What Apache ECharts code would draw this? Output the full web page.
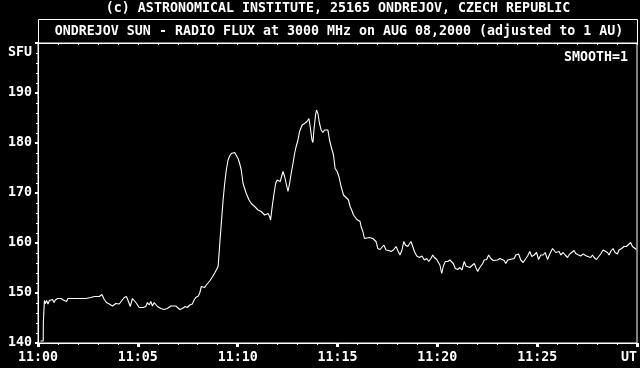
<!DOCTYPE html>
<html>
<head>
<meta charset="utf-8">
<script src="https://cdn.jsdelivr.net/npm/echarts@6/dist/echarts.min.js"></script>
<style>
html,body{margin:0;padding:0;background:#000;}
#chart{width:640px;height:368px;}
</style>
</head>
<body>
<div id="chart"></div>
<script>
// minutes after 11:00 UT
const minutes = [
0.12,0.26,0.27,0.31,0.32,0.37,0.43,0.50,0.57,0.65,0.73,0.80,0.87,0.98,1.07,1.15,1.27,1.37,1.43,1.50,
1.65,1.90,1.98,2.07,2.40,2.48,2.65,2.82,2.90,3.07,3.20,3.32,3.43,3.57,3.73,3.90,3.98,4.07,4.20,4.32,
4.43,4.53,4.62,4.73,4.82,4.90,4.98,5.07,5.27,5.40,5.48,5.57,5.65,5.73,5.82,5.90,5.98,6.15,6.32,6.48,
6.65,6.73,6.90,6.98,7.10,7.23,7.37,7.48,7.60,7.73,7.82,7.90,8.03,8.10,8.18,8.27,8.35,8.43,8.52,8.60,
8.73,8.85,8.93,9.02,9.07,9.13,9.18,9.27,9.35,9.43,9.52,9.60,9.68,9.77,9.85,9.93,10.02,10.10,10.18,10.27,
10.35,10.43,10.57,10.68,10.77,10.85,10.93,11.02,11.18,11.27,11.35,11.43,11.52,11.60,11.65,11.73,11.80,11.90,11.98,12.07,
12.13,12.20,12.27,12.35,12.43,12.52,12.60,12.68,12.77,12.85,12.93,13.02,13.10,13.23,13.35,13.47,13.57,13.63,13.72,13.77,
13.82,13.90,13.95,14.02,14.10,14.18,14.27,14.35,14.43,14.52,14.60,14.68,14.80,14.88,14.98,15.07,15.18,15.30,15.43,15.55,
15.63,15.72,15.80,15.88,15.97,16.05,16.13,16.18,16.27,16.35,16.43,16.60,16.77,16.85,16.93,17.02,17.13,17.23,17.32,17.43,
17.57,17.68,17.80,17.93,18.02,18.13,18.23,18.32,18.40,18.52,18.60,18.68,18.77,18.85,18.97,19.10,19.23,19.35,19.47,19.57,
19.68,19.77,19.85,19.97,20.07,20.13,20.22,20.30,20.40,20.52,20.63,20.73,20.80,20.90,21.02,21.13,21.23,21.35,21.43,21.52,
21.63,21.73,21.85,21.93,22.02,22.10,22.18,22.27,22.35,22.47,22.57,22.68,22.80,22.90,23.02,23.13,23.23,23.35,23.43,23.52,
23.63,23.73,23.85,23.93,24.07,24.18,24.30,24.40,24.52,24.63,24.73,24.85,24.97,25.07,25.18,25.30,25.40,25.52,25.63,25.77,
25.85,25.93,26.02,26.10,26.18,26.30,26.40,26.52,26.63,26.73,26.85,26.93,27.07,27.18,27.30,27.40,27.47,27.57,27.68,27.77,
27.85,27.97,28.07,28.18,28.30,28.40,28.52,28.60,28.68,28.80,28.90,29.02,29.10,29.23,29.35,29.47,29.57,29.68,29.77,29.85,
29.97
];
// radio flux, SFU
const flux = [
140.4,140.4,144.4,144.6,148.5,147.9,148.5,147.8,148.5,148.3,148.7,148.1,148.6,148.9,148.6,148.9,148.6,148.9,148.3,148.9,
148.9,148.9,148.7,148.9,148.9,149.3,149.1,149.3,148.9,149.3,149.7,148.7,148.1,147.8,147.4,147.9,148.3,147.8,148.5,149.1,
149.3,148.3,147.3,148.9,149.1,148.1,147.8,147.1,147.1,147.3,148.1,147.6,148.3,147.4,148.1,147.8,147.3,146.9,146.7,146.9,
147.4,147.3,147.4,147.1,146.7,146.9,147.3,147.1,147.6,147.8,148.6,149.1,149.4,150.0,151.3,151.4,151.1,151.6,152.0,152.4,
153.2,154.0,154.6,155.3,157.9,161.3,163.9,168.6,171.9,174.6,176.6,177.4,177.9,177.8,178.1,177.8,176.9,175.9,174.6,171.9,
170.9,169.9,168.6,167.9,167.8,167.3,166.9,166.6,166.3,166.1,165.6,165.8,165.9,165.3,164.6,167.3,169.3,171.9,172.6,172.9,
172.3,173.3,174.3,173.3,171.9,170.3,171.9,173.9,175.9,177.9,179.3,180.6,182.3,183.6,183.9,184.3,184.9,183.3,180.6,180.1,
182.6,185.6,186.6,185.9,183.9,182.6,182.1,182.6,182.9,182.6,180.6,179.3,177.6,174.9,174.3,173.3,171.3,169.6,169.1,168.6,
167.3,166.5,165.6,165.3,164.7,164.3,164.3,163.3,162.3,160.9,161.3,161.1,160.9,160.9,160.3,158.9,158.7,158.9,159.6,158.6,
158.5,158.3,158.6,159.3,158.5,157.6,158.6,160.3,159.6,159.3,159.8,160.3,159.3,158.3,157.4,157.1,157.4,156.6,156.9,156.3,
156.9,157.6,157.1,156.7,156.3,155.6,153.9,155.4,156.3,156.3,156.6,156.9,155.9,154.9,154.7,155.1,154.6,156.3,155.4,155.1,
155.1,154.9,155.9,155.1,154.3,154.9,155.4,155.9,156.6,156.7,157.6,156.9,156.5,156.6,156.6,156.9,157.3,156.5,155.9,156.6,
156.7,156.9,156.9,157.6,157.8,156.6,156.1,156.7,157.4,158.3,157.3,157.6,158.1,156.7,157.6,157.6,158.1,156.7,157.8,158.9,
158.6,158.1,157.8,158.3,157.6,158.1,157.6,157.1,157.8,158.1,158.5,157.9,157.6,157.4,157.8,158.1,157.4,157.8,157.1,157.6,
157.1,156.7,157.1,157.8,158.6,158.9,158.1,157.6,158.3,158.9,158.1,157.8,158.6,158.9,159.3,159.3,159.6,160.1,159.3,158.9,
158.7
];
const xTickLabels = ['11:00','11:05','11:10','11:15','11:20','11:25','UT'];
const yTickLabels = ['140','150','160','170','180','190'];

const FONT = '"DejaVu Sans Mono", "Liberation Mono", monospace';
const FS = 13.3;
const chart = echarts.init(document.getElementById('chart'), null, {renderer:'canvas'});
const seriesData = minutes.map((m,i)=>[m, flux[i]]);
const txt = {color:'#fff', fontFamily:FONT, fontSize:FS, fontWeight:'bold'};
const font = 'bold ' + FS + 'px ' + FONT;

chart.setOption({
  backgroundColor:'#000',
  animation:false,
  grid:{left:38, right:2, top:43, bottom:25, show:true, borderColor:'#fff', borderWidth:1, backgroundColor:'transparent'},
  xAxis:[{
    type:'value', min:0, max:30, interval:5, position:'bottom',
    axisLine:{show:true, lineStyle:{color:'#fff', width:1}},
    axisTick:{show:true, inside:false, length:4, lineStyle:{color:'#fff', width:3}},
    minorTick:{show:true, splitNumber:5, length:2, lineStyle:{color:'#fff', width:1}},
    splitLine:{show:false},
    axisLabel:Object.assign({margin:8, alignMaxLabel:'right',
      formatter:(v)=>xTickLabels[Math.round(v/5)]}, txt)
  },{
    type:'value', min:0, max:30, interval:1, position:'top',
    axisLine:{show:true, lineStyle:{color:'#fff', width:1}},
    axisTick:{show:true, inside:true, length:2, lineStyle:{color:'#fff', width:1}},
    axisLabel:{show:false}, splitLine:{show:false}
  }],
  yAxis:{
    type:'value', min:140, max:200, interval:10,
    axisLine:{show:true, lineStyle:{color:'#fff', width:1}},
    axisTick:{show:true, length:3, lineStyle:{color:'#fff', width:2}},
    minorTick:{show:true, splitNumber:5, length:2, lineStyle:{color:'#fff', width:1}},
    splitLine:{show:false},
    axisLabel:Object.assign({margin:6, showMaxLabel:false,
      formatter:(v)=>{const i=Math.round((v-140)/10); return yTickLabels[i]||'';}}, txt)
  },
  graphic:[
    {type:'rect', shape:{x:38.5, y:19.5, width:599, height:24}, style:{fill:'none', stroke:'#fff', lineWidth:1}, silent:true},
    {type:'text', x:338, y:9, style:{text:'(c) ASTRONOMICAL INSTITUTE, 25165 ONDREJOV, CZECH REPUBLIC', textAlign:'center', textVerticalAlign:'middle', fill:'#fff', font:font}},
    {type:'text', x:339, y:31.5, style:{text:'ONDREJOV SUN - RADIO FLUX at 3000 MHz on AUG 08,2000 (adjusted to 1 AU)', textAlign:'center', textVerticalAlign:'middle', fill:'#fff', font:font}},
    {type:'text', x:32, y:53, style:{text:'SFU', textAlign:'right', textVerticalAlign:'middle', fill:'#fff', font:font}},
    {type:'text', x:628, y:58, style:{text:'SMOOTH=1', textAlign:'right', textVerticalAlign:'middle', fill:'#fff', font:font}}
  ],
  series:[{
    type:'line', xAxisIndex:0, yAxisIndex:0, data:seriesData,
    showSymbol:false, symbol:'none',
    lineStyle:{color:'#fff', width:1.1}
  }]
});
</script>
</body>
</html>
